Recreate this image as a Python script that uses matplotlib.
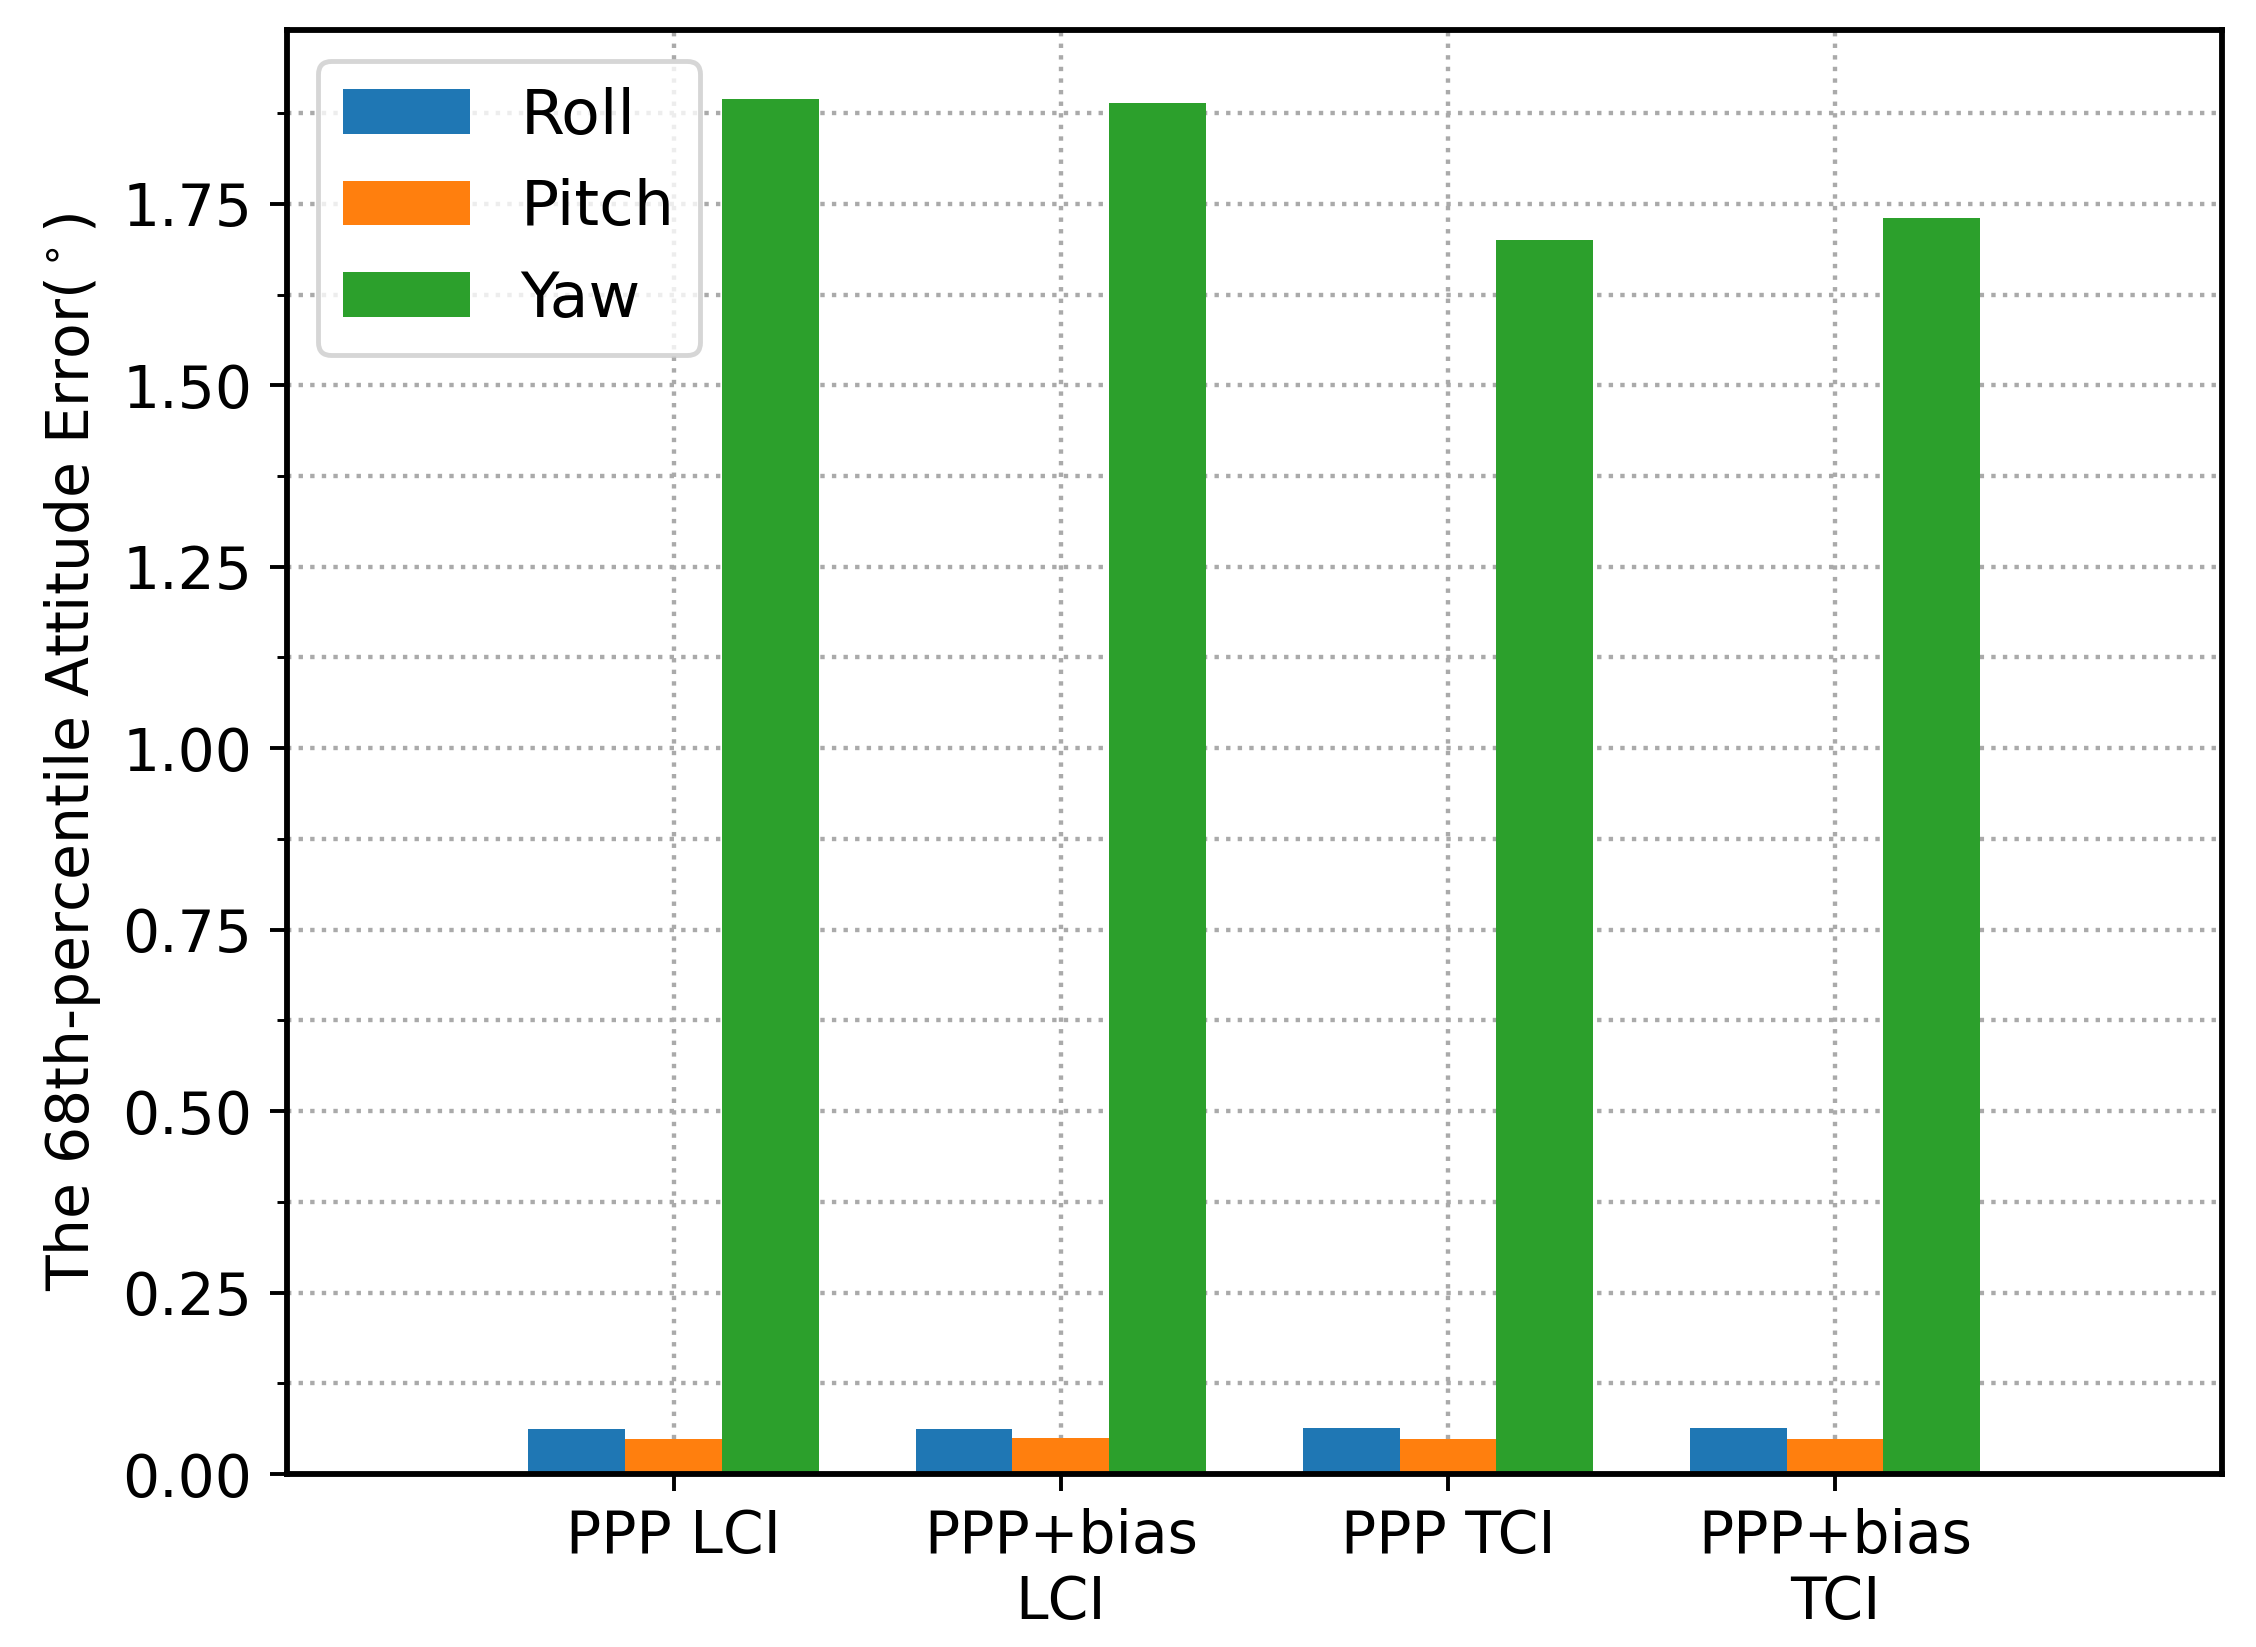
import numpy as np
import matplotlib
matplotlib.use('Agg')
import matplotlib.pyplot as plt
from matplotlib.ticker import MultipleLocator

methods = ['PPP LCI', 'PPP+bias\nLCI', 'PPP TCI', 'PPP+bias\nTCI']
roll = [0.062, 0.062, 0.064, 0.063]
pitch = [0.048, 0.049, 0.048, 0.048]
yaw = [1.895, 1.889, 1.700, 1.730]

fig, ax = plt.subplots(figsize=(2256 / 350, 1647 / 350), dpi=350)
x = np.arange(1, len(methods) + 1)
w = 0.25
ax.bar(x - w, roll, w, color='#1f77b4', label='Roll')
ax.bar(x, pitch, w, color='#ff7f0e', label='Pitch')
ax.bar(x + w, yaw, w, color='#2ca02c', label='Yaw')

ax.set_xlim(0, 5)
ax.set_ylim(0, 1.99)
ax.set_xticks(x)
ax.set_xticklabels(methods, fontsize=12)
ax.yaxis.set_major_locator(MultipleLocator(0.25))
ax.yaxis.set_minor_locator(MultipleLocator(0.125))
ax.tick_params(axis='y', labelsize=12)
ax.set_ylabel('The 68th-percentile Attitude Error($^\\circ$)', fontsize=12)
ax.grid(True, which='both', linestyle=':', color='#aaaaaa', linewidth=0.9)
ax.set_axisbelow(True)
for s in ax.spines.values():
    s.set_linewidth(1.2)
ax.legend(loc='upper left', fontsize=13)
fig.subplots_adjust(left=0.127, right=0.985, top=0.982, bottom=0.105)
fig.savefig('out.png')
